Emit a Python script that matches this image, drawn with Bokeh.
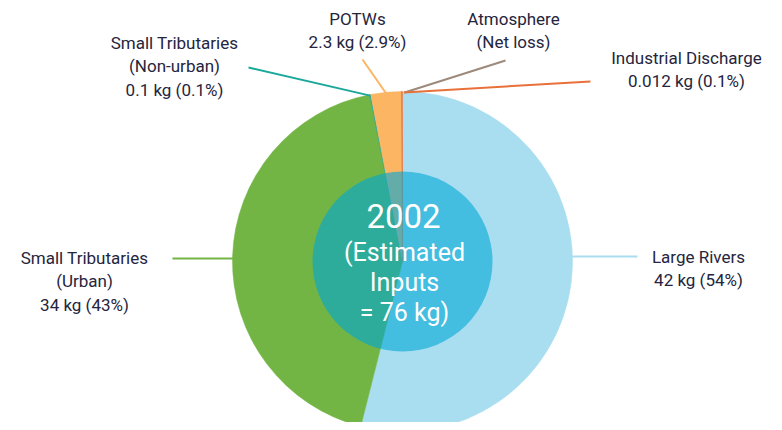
import numpy as np
from bokeh.plotting import figure
from bokeh.models import Range1d, ColumnDataSource
from bokeh.core.properties import value
from bokeh.embed import file_html
from bokeh.resources import INLINE

# ---- data ----
categories = ["Large Rivers", "Small Tributaries (Urban)", "Small Tributaries (Non-urban)",
              "POTWs", "Industrial Discharge"]
kg = [42, 34, 0.1, 2.3, 0.012]
pct = [54, 43, 0.1, 2.9, 0.1]
slice_colors = ["#a9def1", "#72b545", "#1aa89a", "#fbb563", "#e8703a"]

year = "2002"
total_kg = 76

# label texts (lines)
lab_large = ["Large Rivers", "42 kg (54%)"]
lab_urban = ["Small Tributaries", "(Urban)", "34 kg (43%)"]
lab_nonurban = ["Small Tributaries", "(Non-urban)", "0.1 kg (0.1%)"]
lab_potw = ["POTWs", "2.3 kg (2.9%)"]
lab_atm = ["Atmosphere", "(Net loss)"]
lab_ind = ["Industrial Discharge", "0.012 kg (0.1%)"]
atm_color = "#9c8a7c"

# ---- layout (picture pixel coords, y downward) ----
W, H = 766, 422
def Y(y):
    return H - y

cx, cy, R = 402, 261, 170
r_in = 90

FONT = value("Roboto")
TXT = "#25253d"

p = figure(width=W, height=H, output_backend="svg", toolbar_location=None,
           x_range=Range1d(0, W), y_range=Range1d(0, H),
           min_border=0, outline_line_color=None)
p.axis.visible = False
p.grid.visible = False
p.background_fill_color = "white"
p.border_fill_color = "white"

# wedges, clockwise from 12 o'clock
frac = np.array(pct, dtype=float) / np.sum(pct)
ends_cum = np.cumsum(frac)
starts_cum = ends_cum - frac
start_ang = np.pi / 2 - starts_cum * 2 * np.pi
end_ang = np.pi / 2 - ends_cum * 2 * np.pi
src = ColumnDataSource(dict(cat=categories, start=start_ang, end=end_ang, color=slice_colors))
p.wedge(x=cx, y=Y(cy), radius=R, start_angle="start", end_angle="end", direction="clock",
        fill_color="color", line_color="color", line_width=0.5, source=src)

# inner translucent circle
p.circle(x=[cx], y=[Y(cy)], radius=r_in, fill_color="#00a6d6", fill_alpha=0.6, line_color=None)

def edge_point(i, which="mid"):
    a = (start_ang[i] + end_ang[i]) / 2 if which == "mid" else (start_ang[i] if which == "start" else end_ang[i])
    return cx + R * np.cos(a), cy - R * np.sin(a)

# leader lines
def seg(x0, y0, x1, y1, color):
    p.line(x=[x0, x1], y=[Y(y0), Y(y1)], line_color=color, line_width=2)

ex, ey = edge_point(2, "mid")
seg(248, 67, ex, ey + 1, slice_colors[2])
ex, ey = edge_point(3, "mid")
seg(362, 59, ex, ey + 1, slice_colors[3])
seg(505, 60, cx + 2, cy - R + 1, atm_color)
ex, ey = edge_point(4, "mid")
seg(ex + 2, ey + 1, 590, 81, slice_colors[4])
seg(172, 258, cx - R + 1, 258, slice_colors[1])
seg(cx + R - 1, 256, 637, 256, slice_colors[0])

def label(lines, x, y0, dy=23.5, size="17px", color=TXT):
    ys = [Y(y0 + i * dy) for i in range(len(lines))]
    p.text(x=[x] * len(lines), y=ys, text=lines, text_align="center", text_baseline="middle",
           text_font=FONT, text_font_size=size, text_color=color)

label(lab_nonurban, 174, 42)
label(lab_potw, 357, 18)
label(lab_atm, 513, 18)
label(lab_ind, 686, 57)
label(lab_urban, 84, 257)
label(lab_large, 698, 256)

# center text
p.text(x=[cx + 1], y=[Y(215)], text=[year], text_align="center", text_baseline="middle",
       text_font=FONT, text_font_size="33px", text_color="white")
label(["(Estimated", "Inputs", f"= {total_kg} kg)"], cx + 2, 252, dy=30, size="25px", color="white")

open("out.html", "w").write(file_html(p, INLINE))
